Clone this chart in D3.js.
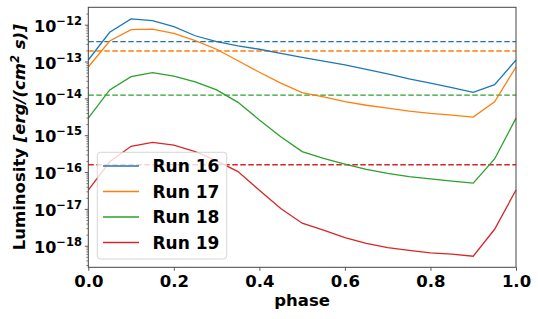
<!DOCTYPE html>
<html>
<head>
<meta charset="utf-8">
<script src="https://cdn.jsdelivr.net/npm/d3@7"></script>
<style>
  body { margin: 0; background: #fff; }
  text { font-family: "DejaVu Sans", sans-serif; font-weight: bold; }
</style>
</head>
<body>
<svg id="chart"></svg>
<script>
// phase samples
const phase = [0, 0.05, 0.1, 0.15, 0.2, 0.25, 0.3, 0.35, 0.4, 0.45, 0.5,
  0.55, 0.6, 0.65, 0.7, 0.75, 0.8, 0.85, 0.9, 0.95, 1.0];

const run16 = [1.1e-13, 6.2e-13, 1.43e-12, 1.28e-12, 8.8e-13, 5.0e-13, 3.45e-13, 2.64e-13, 2.15e-13, 1.67e-13, 1.3e-13,
  1.03e-13, 8.1e-14, 6.1e-14, 4.6e-14, 3.4e-14, 2.6e-14, 1.95e-14, 1.46e-14, 2.35e-14, 1.1e-13];
const run17 = [7.1e-14, 3.6e-13, 7.3e-13, 7.6e-13, 5.8e-13, 3.7e-13, 2.15e-13, 1.05e-13, 5.1e-14, 2.6e-14, 1.43e-14,
  1.1e-14, 8.1e-15, 6.5e-15, 5.4e-15, 4.5e-15, 3.9e-15, 3.5e-15, 3.1e-15, 8.1e-15, 7.1e-14];
const run18 = [2.9e-15, 1.69e-14, 3.9e-14, 5.0e-14, 4.0e-14, 2.8e-14, 1.7e-14, 7.8e-15, 2.6e-15, 9.1e-16, 3.6e-16,
  2.35e-16, 1.65e-16, 1.19e-16, 9.2e-17, 7.5e-17, 6.5e-17, 5.7e-17, 5.0e-17, 2.26e-16, 2.9e-15];
const run19 = [3.25e-17, 1.9e-16, 5.0e-16, 6.4e-16, 5.4e-16, 3.6e-16, 2.0e-16, 1.03e-16, 3.2e-17, 1.03e-17, 4.1e-18,
  2.67e-18, 1.65e-18, 1.16e-18, 8.9e-19, 7.5e-19, 6.4e-19, 5.9e-19, 5.2e-19, 2.8e-18, 3.25e-17];

// dashed reference levels
const meanLevels = [3.45e-13, 1.93e-13, 1.23e-14, 1.58e-16];

const seriesNames = ["Run 16", "Run 17", "Run 18", "Run 19"];
const colors = ["#1f77b4", "#ff7f0e", "#2ca02c", "#d62728"];
const xTicks = [0, 0.2, 0.4, 0.6, 0.8, 1.0];
const yTickExps = [-18, -17, -16, -15, -14, -13, -12];

const runs = [run16, run17, run18, run19];

const W = 538, H = 319;
const m = {left: 88.3, right: 516, top: 7.3, bottom: 267.3};

const svg = d3.select("#chart").attr("width", W).attr("height", H);

const x = d3.scaleLinear().domain([0, 1]).range([m.left, m.right]);
const y = d3.scaleLog().domain([2.6e-19, 2.96e-12]).range([m.bottom, m.top]);

// minor ticks on the log axis
let minor = [];
for (let e = -19; e <= -12; e++) {
  for (let k = 2; k <= 9; k++) {
    let v = k * Math.pow(10, e);
    if (v >= y.domain()[0] && v <= y.domain()[1]) minor.push(v);
  }
}

svg.append("g")
  .attr("transform", "translate(" + m.left + ",0)")
  .call(d3.axisLeft(y).tickValues(minor).tickSize(2).tickFormat(""))
  .call(g => g.select(".domain").remove())
  .selectAll("line").attr("stroke", "#333").attr("stroke-width", 0.6);

const yAxis = svg.append("g")
  .attr("transform", "translate(" + m.left + ",0)")
  .call(d3.axisLeft(y).tickValues(yTickExps.map(e => Math.pow(10, e))).tickSize(3.5).tickFormat(""));
yAxis.select(".domain").remove();
yAxis.selectAll("line").attr("stroke", "#333").attr("stroke-width", 0.8);

const yLab = svg.append("g").selectAll("text")
  .data(yTickExps)
  .join("text")
  .attr("x", 82)
  .attr("y", d => y(Math.pow(10, d)) + 7)
  .attr("text-anchor", "end")
  .attr("fill", "#000")
  .style("font-size", "16px");
yLab.append("tspan").text("10");
yLab.append("tspan").attr("dy", -7).style("font-size", "11.5px").text(d => "\u2212" + Math.abs(d));

const xAxis = svg.append("g")
  .attr("transform", "translate(0," + m.bottom + ")")
  .call(d3.axisBottom(x).tickValues(xTicks).tickSize(3.5).tickFormat(d3.format(".1f")));
xAxis.select(".domain").remove();
xAxis.selectAll("line").attr("stroke", "#333").attr("stroke-width", 0.8);
xAxis.selectAll("text").attr("fill", "#000").attr("y", 8).attr("dy", "0.71em")
  .style("font-size", "16.5px").style("font-family", "DejaVu Sans").style("font-weight", "bold");

// dashed levels
svg.append("g").selectAll("line")
  .data(meanLevels)
  .join("line")
  .attr("x1", m.left).attr("x2", m.right)
  .attr("y1", d => y(d)).attr("y2", d => y(d))
  .attr("stroke", (d, i) => colors[i])
  .attr("stroke-width", 1.3)
  .attr("stroke-dasharray", "5.5,2.5");

const line = d3.line()
  .x((d, i) => x(phase[i]))
  .y(d => y(d));

svg.append("g").selectAll("path")
  .data(runs)
  .join("path")
  .attr("d", d => line(d))
  .attr("fill", "none")
  .attr("stroke", (d, i) => colors[i])
  .attr("stroke-width", 1.3);

// frame
svg.append("rect")
  .attr("x", m.left).attr("y", m.top)
  .attr("width", m.right - m.left).attr("height", m.bottom - m.top)
  .attr("fill", "none").attr("stroke", "#444").attr("stroke-width", 1);

// legend
const leg = svg.append("g");
leg.append("rect")
  .attr("x", 97.3).attr("y", 152.3).attr("width", 129.4).attr("height", 106.7)
  .attr("rx", 3)
  .attr("fill", "#fff").attr("fill-opacity", 0.8)
  .attr("stroke", "#ccc").attr("stroke-width", 0.8);
const rows = leg.selectAll("g.row")
  .data(seriesNames)
  .join("g")
  .attr("class", "row")
  .attr("transform", (d, i) => "translate(0," + (166 + i * 25.5) + ")");
rows.append("line")
  .attr("x1", 103).attr("x2", 139)
  .attr("stroke", (d, i) => colors[i]).attr("stroke-width", 1.3);
rows.append("text")
  .attr("x", 152.5).attr("y", 6.3)
  .style("font-size", "17px")
  .attr("fill", "#000")
  .text(d => d);

// axis titles
svg.append("text")
  .attr("x", (m.left + m.right) / 2).attr("y", 306)
  .attr("text-anchor", "middle")
  .style("font-size", "16.5px")
  .text("phase");

const yt = svg.append("text")
  .attr("transform", "translate(25," + ((m.top + m.bottom) / 2) + ") rotate(-90)")
  .attr("text-anchor", "middle")
  .style("font-size", "16.5px");
yt.append("tspan").text("Luminosity ");
yt.append("tspan").style("font-style", "italic").text("[erg/(cm");
yt.append("tspan").style("font-style", "italic").style("font-size", "11.5px").attr("dy", -6).text("2");
yt.append("tspan").style("font-style", "italic").attr("dy", 6).text(" s)]");
</script>
</body>
</html>
